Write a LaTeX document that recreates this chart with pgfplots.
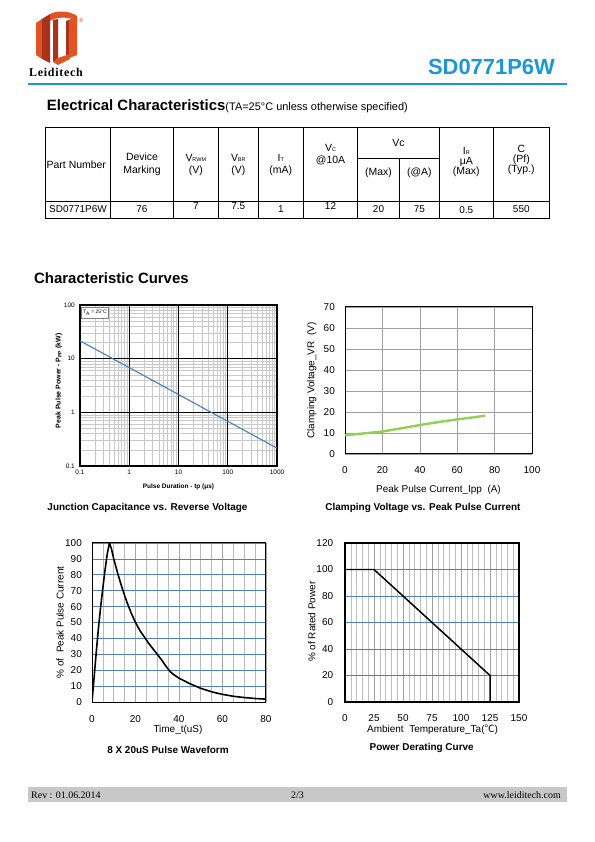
\documentclass[border=0pt]{standalone}
\usepackage{fontspec}
\setmainfont{Liberation Sans}
\newfontfamily\seriffont{Liberation Serif}
\newfontfamily\cjk{Noto Sans CJK SC}
\usepackage{pgfplots}
\pgfplotsset{compat=1.18}
\definecolor{ldblue}{RGB}{28,150,212}
\definecolor{gridblue}{RGB}{79,129,189}
\definecolor{curveblue}{RGB}{74,126,187}
\definecolor{clampgreen}{RGB}{146,208,80}
\definecolor{logored}{RGB}{226,82,34}
\definecolor{logodark}{RGB}{168,50,28}
\definecolor{footgray}{RGB}{200,200,200}
\newcommand{\fs}[1]{\fontsize{#1}{#1}\selectfont}
\newcommand{\sub}[1]{{\fontsize{5.5}{6}\selectfont #1}}
\pgfplotsset{
  dsheet/.style={
    anchor=south west, scale only axis,
    /pgf/number format/assume math mode=true,
    major tick length=0pt, minor tick length=0pt,
    tick label style={font=\fs{10}, inner sep=0pt},
    label style={font=\fs{10}},
    axis line style={black, line width=1pt},
  }
}
\begin{document}
\begin{tikzpicture}[x=1bp,y=1bp]
\fill[white] (0,0) rectangle (595,842);
\path[use as bounding box] (0,0) rectangle (595,842);
\coordinate (posA) at (80,376);
\coordinate (posB) at (345,388);
\coordinate (posC) at (92,140);
\coordinate (posD) at (345,140);

\begin{scope}[yshift=842bp, yscale=-1]
% ---------- logo ----------
\fill[logored] (36,23) -- (42,19) -- (42,59) -- (36,55) -- cycle;
\fill[logodark] (42,19) -- (50,14) -- (50,63) -- (42,59) -- cycle;
\fill[logored] (50,14) .. controls (58,10) and (70,11) .. (77,16) -- (77,21) .. controls (70,17) and (60,17) .. (54,19) -- (50,21) -- cycle;
\fill[logodark] (53,20) -- (58,19) -- (58,58) -- (53,62) -- cycle;
\fill[logodark] (66,21) -- (69,20) -- (69,58) -- (66,58) -- cycle;
\fill[logored] (69,20) -- (77,16) -- (77,55) -- (69,58) -- cycle;
\fill[logored] (53,62) -- (58,58) -- (70,54) -- (70,59) -- (58,65) -- cycle;
\node[text=logored, font=\fs{6}, inner sep=0] at (81,20) {\textregistered};
\node[anchor=base west, inner sep=0, font=\seriffont\bfseries\fs{12}\addfontfeature{LetterSpace=6}] at (29,77) {Leiditech};
% ---------- header ----------
\node[anchor=base east, inner sep=0, text=ldblue, font=\bfseries\fs{22}] at (555,75) {SD0771P6W};
\draw[ldblue, line width=1.2] (28,84) -- (567,84);
\node[anchor=base west, inner sep=0, font=\bfseries\fs{15}] at (46.7,110.7) {Electrical Characteristics{\mdseries\fs{11}(TA=25°C unless otherwise specified)}};
% ---------- table ----------
\draw[line width=0.9] (45,127.3) rectangle (549.3,218.3);
\draw[line width=0.9] (45,201.7) -- (549.3,201.7);
\foreach \xx in {110.7,173.3,218.3,258.3,303.3,357.7,439.3,493.3} \draw[line width=0.9] (\xx,127.3) -- (\xx,218.3);
\draw[line width=0.9] (399.3,158.3) -- (399.3,218.3);
\draw[line width=0.9] (357.7,158.3) -- (439.3,158.3);
\begin{scope}[every node/.style={anchor=base, inner sep=0, font=\fs{10.5}}]
\node[anchor=base west] at (46.5,168.7) {Part Number};
\node at (142,160.4) {Device};
\node at (142,173.7) {Marking};
\node at (195.8,162) {V\sub{RWM}};
\node at (195.8,173.7) {(V)};
\node at (238.3,162) {V\sub{BR}};
\node at (238.3,173.7) {(V)};
\node at (280.8,162) {I\sub{T}};
\node at (280.8,173.7) {(mA)};
\node at (330.5,152) {V\sub{C}};
\node at (330.5,163.7) {@10A};
\node at (398.5,146.4) {Vc};
\node at (378.5,175.4) {(Max)};
\node at (419.3,175.4) {(@A)};
\node at (466.3,154.7) {I\sub{R}};
\node at (466.3,164.7) {μA};
\node at (466.3,174.4) {(Max)};
\node at (521.3,152.5) {C};
\node at (521.3,162.5) {(Pf)};
\node at (521.3,172.5) {(Typ.)};
\end{scope}
\begin{scope}[every node/.style={anchor=base, inner sep=0, font=\fs{10}}]
\node at (78,212.6) {SD0771P6W};
\node at (142,212.6) {76};
\node at (195.8,209.5) {7};
\node at (238.3,209.5) {7.5};
\node at (280.8,212.6) {1};
\node at (330.5,209.5) {12};
\node at (378.5,212.6) {20};
\node at (419.3,212.6) {75};
\node at (466.3,214) {0.5};
\node at (521.3,212.6) {550};
\end{scope}
% ---------- section + chart titles ----------
\node[anchor=base west, inner sep=0, font=\bfseries\fs{15}] at (34,283.5) {Characteristic Curves};
\begin{scope}[every node/.style={inner sep=0, font=\bfseries\fs{10}}]
\node at (147.5,508) {Junction Capacitance vs. Reverse Voltage};
\node at (423,508) {Clamping Voltage vs. Peak Pulse Current};
\node at (168,750) {8 X 20uS Pulse Waveform};
\node at (421.7,748.3) {Power Derating Curve};
\end{scope}
% ---------- footer ----------
\fill[footgray] (27.7,787.3) rectangle (567,801.7);
\node[anchor=base west, inner sep=0, font=\seriffont\fs{10}] at (31,799) {Rev : 01.06.2014};
\node[anchor=base, inner sep=0, font=\seriffont\fs{10}] at (297.5,799) {2/3};
\node[anchor=base east, inner sep=0, font=\seriffont\fs{10}] at (561,799) {www.leiditech.com};
\end{scope}

% ---------- chart 1: peak pulse power vs pulse duration ----------
\begin{axis}[dsheet,
  at={(posA)}, width=197bp, height=161bp,
  xmode=log, ymode=log, xmin=0.1, xmax=1000, ymin=0.1, ymax=100,
  xtick={0.1,1,10,100,1000}, xticklabels={0.1,1,10,100,1000},
  ytick={0.1,1,10,100}, yticklabels={0.1,1,10,100},
  xminorgrids, yminorgrids,
  minor grid style={gray!42, line width=0.55pt},
  extra x ticks={1,10,100}, extra y ticks={1,10},
  extra x tick labels={}, extra y tick labels={},
  extra tick style={grid=major, major grid style={black, line width=1.2pt}},
  axis line style={black, line width=1.2pt},
  tick label style={font=\fs{6.5}, inner sep=0pt},
  xticklabel style={anchor=center, yshift=-6.7bp},
  yticklabel style={anchor=east, xshift=-5bp},
  xlabel={Pulse Duration - tp (μs)},
  ylabel={Peak Pulse Power - P\textsubscript{PP} (kW)},
  xlabel style={font=\bfseries\fs{6.5}, at={(axis description cs:0.5,-0.129)}, anchor=center},
  ylabel style={font=\bfseries\fs{7}, at={(axis description cs:-0.107,0.53)}, anchor=center},
]
\addplot[curveblue, line width=1.1pt] coordinates {(0.1,21.5)(1,6.8)(10,2.15)(100,0.68)(1000,0.215)};
\node[draw=gray, fill=white, anchor=north west, font=\fs{5}, inner sep=1.5pt, minimum width=27bp, minimum height=11bp] at (rel axis cs:0.006,0.988) {T\textsubscript{A} = 25°C};
\end{axis}

% ---------- chart 2: clamping voltage ----------
\begin{axis}[dsheet,
  at={(posB)}, width=187bp, height=147bp,
  xmin=0, xmax=100, ymin=0, ymax=70,
  xtick={0,20,...,100}, ytick={0,10,...,70},
  grid=major, major grid style={gray!75, line width=0.6pt},
  xticklabel style={anchor=center, yshift=-16bp},
  yticklabel style={anchor=east, xshift=-10bp},
  xlabel={Peak Pulse Current\_Ipp\ \ (A)},
  ylabel={Clamping Voltage\_VR\ \ (V)},
  xlabel style={at={(axis description cs:0.5,-0.245)}, anchor=center},
  ylabel style={at={(axis description cs:-0.178,0.5)}, anchor=center},
]
\addplot[clampgreen, line width=2.4pt] coordinates {(0,8.9)(10,9.8)(20,10.7)(30,12.2)(40,13.8)(50,15.2)(60,16.5)(70,17.6)(75,18.3)};
\end{axis}

% ---------- chart 3: 8x20us waveform ----------
\begin{axis}[dsheet,
  at={(posC)}, width=174bp, height=159bp,
  xmin=0, xmax=80, ymin=0, ymax=100,
  xtick={0,20,...,80}, ytick={0,10,...,100},
  minor x tick num=3,
  xmajorgrids, xminorgrids, ymajorgrids,
  major x grid style={gray!70, line width=0.6pt},
  minor x grid style={gray!55, line width=0.6pt},
  major y grid style={gridblue, line width=0.7pt},
  xticklabel style={anchor=center, yshift=-17bp},
  yticklabel style={anchor=east, xshift=-10bp},
  xlabel={Time\_t(uS)},
  ylabel={\%\ of\ \ Peak Pulse Current},
  xlabel style={at={(axis description cs:0.494,-0.176)}, anchor=center},
  ylabel style={at={(axis description cs:-0.184,0.5)}, anchor=center},
]
\addplot[black, line width=1.6pt, line join=round] coordinates {
(0,0)(1,16)(2,32)(3,47)(4,60)(5,72)(6,83)(7,93)(8,100)(9,96)(10,90)(12,80)(14,71)(16,63)(18,56)(20,50)(22,45)(24,41)(26,37)(28,33.5)(30,30)(32,26.5)(34,22.5)(36,19)(38,16.8)(40,15)(45,11.5)(50,8.6)(55,6.4)(60,4.8)(65,3.6)(70,2.8)(75,2.2)(80,1.8)};
\end{axis}

% ---------- chart 4: power derating ----------
\begin{axis}[dsheet,
  at={(posD)}, width=174bp, height=159bp,
  xmin=0, xmax=150, ymin=0, ymax=120,
  xtick={0,25,...,150}, ytick={0,20,...,120},
  minor x tick num=4,
  xmajorgrids, xminorgrids, ymajorgrids,
  major x grid style={gray!75, line width=0.6pt},
  minor x grid style={gray!50, line width=0.6pt},
  major y grid style={gridblue, line width=0.7pt},
  axis line style={black, line width=1.3pt},
  xticklabel style={anchor=center, yshift=-16bp},
  yticklabel style={anchor=east, xshift=-11.7bp},
  xlabel={Ambient\ \ Temperature\_Ta({\cjk ℃})},
  ylabel={\%\ of Rated Power},
  xlabel style={at={(axis description cs:0.503,-0.172)}, anchor=center},
  ylabel style={at={(axis description cs:-0.191,0.505)}, anchor=center},
]
\addplot[black, line width=1.5pt] coordinates {(0,100)(25,100)(125,20)(125,0)};
\end{axis}
\end{tikzpicture}
\end{document}
